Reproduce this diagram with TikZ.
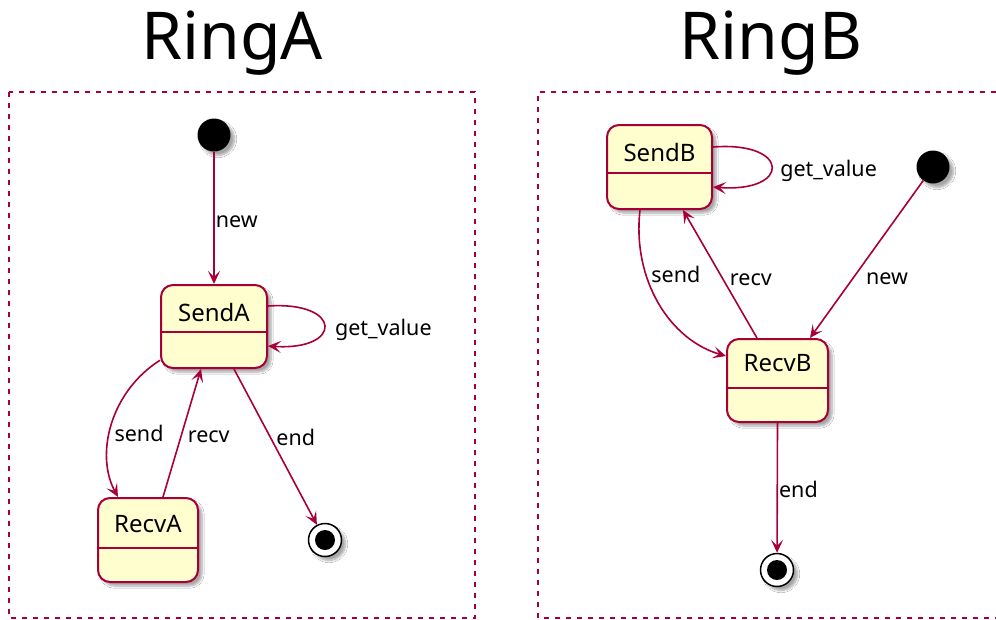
\documentclass[tikz,border=0pt]{standalone}
\usepackage{fontspec}
\setmainfont{Noto Sans}
\usetikzlibrary{arrows.meta,shadows.blur}
\definecolor{pborder}{HTML}{A80036}
\definecolor{pfill}{HTML}{FEFECE}
\begin{document}
\begin{tikzpicture}[x=1pt,y=-1pt,
  shad/.style={blur shadow={shadow xshift=4pt,shadow yshift=-4pt,shadow blur steps=8,shadow opacity=35}},
  statebox/.style={draw=pborder,fill=pfill,line width=2pt,rounded corners=12pt,inner sep=0pt,shad},
  sepline/.style={draw=pborder,line width=2pt},
  stxt/.style={font=\fontsize{24}{28}\selectfont,inner sep=0pt},
  lbl/.style={font=\fontsize{21.5}{26}\selectfont,inner sep=0pt,text height=0.75em,text depth=0.25em,yshift=-7pt},
  arr/.style={draw=pborder,line width=1.6pt,-{Stealth[length=13pt,width=12pt,inset=6pt]}},
  startst/.style={circle,fill=black,minimum size=33pt,inner sep=0pt,shad},
  endst/.style={circle,draw=black,line width=1.5pt,fill=white,minimum size=33pt,inner sep=0pt,shad},
  endin/.style={circle,fill=black,minimum size=20pt,inner sep=0pt},
  frame/.style={draw=pborder,line width=2.4pt,dash pattern=on 5pt off 6pt},
  title/.style={font=\fontsize{66}{72}\selectfont,inner sep=0pt}]

\useasboundingbox[fill=white] (0,0) rectangle (996,619);

% titles
\node[title,anchor=base] (tA) at (232,59) {RingA};
\node[title,anchor=base] (tB) at (771,59) {RingB};

% frames
\draw[frame] (9,92) rectangle (475,618);
\draw[frame] (996,92) -- (538,92) -- (538,618) -- (996,618);

% ---- RingA ----
\node[startst] (startA) at (214,135) {};
\node[statebox,minimum width=106pt,minimum height=83pt] (SendA) at (214,326.5) {};
\draw[sepline] ([yshift=-5.5pt]SendA.west) -- ([yshift=-5.5pt]SendA.east);
\node[stxt] (SendAt) at (214,312) {SendA};

\node[statebox,minimum width=100pt,minimum height=84pt] (RecvA) at (148,540) {};
\draw[sepline] ([yshift=-7.5pt]RecvA.west) -- ([yshift=-7.5pt]RecvA.east);
\node[stxt] (RecvAt) at (148,524) {RecvA};

\node[endst] (endA) at (325,540) {};
\node[endin] (endAi) at (325,540) {};

\draw[arr] (startA) -- (SendA.north) node[lbl,midway,anchor=west,xshift=1pt]{new};
\draw[arr] ([yshift=20.5pt]SendA.east) .. controls +(75,-5) and +(75,5) .. ([yshift=-19.5pt]SendA.east)
  node[lbl,pos=0.5,anchor=west,xshift=10pt]{get\_value};
\draw[arr] (SendA.212) .. controls (110,392) and (95,455) .. ([xshift=-30pt]RecvA.north)
  node[lbl,pos=0.55,anchor=west,xshift=4pt]{send};
\draw[arr] ([xshift=15pt]RecvA.north) -- ([xshift=-13pt]SendA.south)
  node[lbl,midway,anchor=west,xshift=5pt]{recv};
\draw[arr] ([xshift=20pt]SendA.south) -- (endA)
  node[lbl,pos=0.43,anchor=west,xshift=6pt]{end};

% ---- RingB ----
\node[startst] (startB) at (933,167) {};
\node[statebox,minimum width=105pt,minimum height=84pt] (SendB) at (659.5,167) {};
\draw[sepline] ([yshift=-6pt]SendB.west) -- ([yshift=-6pt]SendB.east);
\node[stxt] (SendBt) at (659.5,152) {SendB};

\node[statebox,minimum width=101pt,minimum height=83pt] (RecvB) at (777.5,380.5) {};
\draw[sepline] ([yshift=-7.5pt]RecvB.west) -- ([yshift=-7.5pt]RecvB.east);
\node[stxt] (RecvBt) at (777.5,363) {RecvB};

\node[endst] (endB) at (777,570) {};
\node[endin] (endBi) at (777,570) {};

\draw[arr] ([yshift=20pt]SendB.east) .. controls +(78,-6) and +(78,6) .. ([yshift=-20pt]SendB.east)
  node[lbl,pos=0.5,anchor=west,xshift=8pt]{get\_value};
\draw[arr] (startB) -- ([xshift=32.5pt]RecvB.north)
  node[lbl,pos=0.6,anchor=west,xshift=10pt]{new};
\draw[arr] ([xshift=-19.5pt]SendB.south) .. controls (632,280) and (670,340) .. ([yshift=24.5pt]RecvB.west)
  node[lbl,pos=0.32,anchor=west,xshift=5pt]{send};
\draw[arr] ([xshift=-20.5pt]RecvB.north) -- ([xshift=23.5pt]SendB.south)
  node[lbl,pos=0.485,anchor=west,xshift=8pt]{recv};
\draw[arr] (RecvB.south) -- (endB)
  node[lbl,pos=0.5,anchor=west,xshift=1pt]{end};
\end{tikzpicture}
\end{document}
